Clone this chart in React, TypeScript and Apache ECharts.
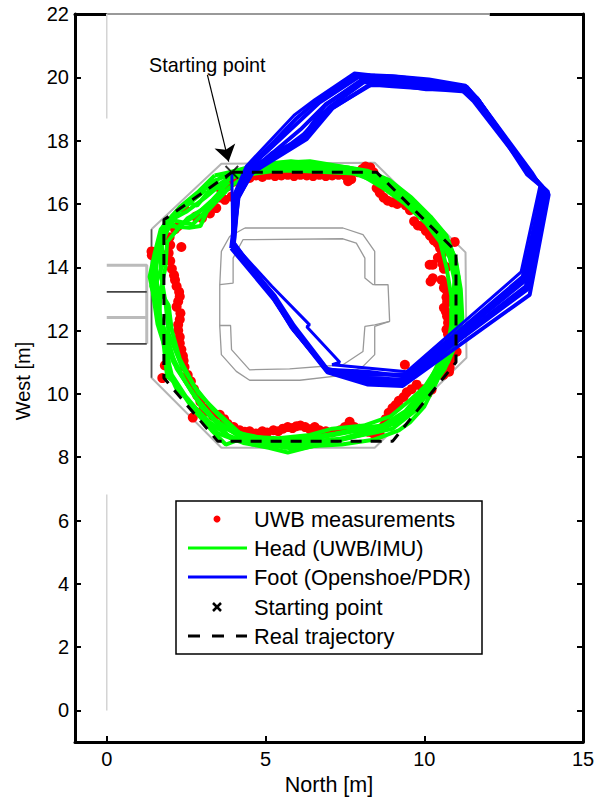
import React, { useEffect, useRef } from "react";
import * as echarts from "echarts";

const xTicks = [0, 5, 10, 15];
const yTicks = [0, 2, 4, 6, 8, 10, 12, 14, 16, 18, 20, 22];

const realTrajectory = [[3.94,17],[8.5,17],[11,14.5],[11,11],[9,8.5],[3.5,8.5],[1.8,10.5],[1.8,15.5],[3.94,17]];
const startPoint = [[3.94, 17]];

const uwbPoints = [
  [4.1,16.9],[4.3,16.85],[4.5,16.82],[4.7,16.9],[4.9,16.85],[5.1,16.92],[5.3,16.88],[5.5,16.9],[5.7,16.92],[5.9,16.88],[6.1,16.92],[6.3,16.9],[6.5,16.88],[6.7,16.92],[6.9,16.88],[7.1,16.9],[7.3,16.92],[7.5,16.9],[7.6,16.72],[7.7,16.78],[7.9,17.0],[8.05,17.1],[8.15,17.18],[8.3,17.15],[8.4,17.0],
  [8.5,16.5],[8.6,16.35],[8.72,16.2],[8.85,16.1],[9.0,16.05],[9.15,16.0],[9.3,16.12],[9.42,15.95],[9.55,15.8],[9.68,15.45],[9.8,15.32],[9.92,15.3],[10.05,15.15],[10.18,15.0],[10.3,14.85],[10.42,14.75],[10.5,14.6],[10.55,14.4],[10.96,14.8],
  [10.17,14.08],[10.27,14.08],[10.2,13.55],[10.27,13.65],[10.43,14.3],[10.58,14.1],[10.62,13.95],[10.7,14.0],[10.55,13.6],[10.65,13.5],[10.62,13.35],[10.72,13.25],[10.7,13.05],[10.72,12.9],[10.62,12.72],[10.68,12.6],[10.72,12.45],[10.75,12.25],[10.7,12.03],[10.75,11.88],[10.8,11.72],[10.85,11.55],[10.8,11.38],[10.85,11.2],[10.8,10.83],[11.02,11.33],[10.85,11.05],[10.78,10.7],[10.6,10.6],
  [9.39,10.92],[10.23,10.13],[10.1,10.0],[9.95,10.15],[9.76,10.29],[9.6,10.15],[9.45,10.05],[9.35,9.9],[9.2,9.78],[9.1,9.65],[9.0,9.55],[8.88,9.4],[8.78,9.2],[8.72,8.98],[8.6,8.72],[8.4,8.75],[8.25,8.8],[8.1,8.85],[7.95,8.9],[7.8,8.95],[7.65,9.12],[7.5,8.95],[7.35,8.85],[7.1,8.78],[6.9,8.82],[6.7,8.85],[6.55,8.95],[6.4,8.88],[6.25,8.95],[6.1,9.0],[5.98,8.98],[5.85,8.92],[5.7,8.95],[5.55,8.9],[5.4,8.82],[5.25,8.85],[5.05,8.78],[4.9,8.82],[4.7,8.75],[4.5,8.82],[4.35,8.8],[4.19,8.85],[4.0,8.95],[3.81,9.05],[3.7,9.2],[3.56,9.34],[3.35,9.3],[3.18,9.44],[2.71,9.25],
  [3.05,9.55],[2.95,9.75],[2.85,9.95],[2.75,10.15],[2.65,10.4],[2.55,10.6],[2.45,10.85],[2.42,11.05],[2.4,11.2],[2.35,11.4],[2.3,11.6],[2.3,11.8],[2.25,12.0],[2.25,12.18],[2.3,12.35],[2.32,12.55],[2.2,12.75],[2.25,12.92],[2.3,13.08],[2.28,13.22],[2.2,13.4],[2.15,13.6],[2.12,13.75],[2.05,13.95],[2.0,14.2],[1.95,14.45],[2.0,14.7],[1.98,14.95],[2.35,14.64],[1.41,14.5],[1.42,14.38],[1.83,10.9],[1.75,10.5],
  [2.15,15.2],[2.25,15.3],[3.72,16.13],[3.45,15.87],[3.93,16.23],[3.0,15.55],[3.25,15.7],[2.8,15.6],[3.6,16.45],[3.8,16.55],[3.55,16.2],[2.45,15.85],[4.0,16.7],
];

const green1 = [[3.9,17.0],[4.6,17.2],[5.5,17.3],[6.4,17.35],[7.3,17.2],[8.2,17.05],[8.9,16.75],[9.6,16.2],[10.2,15.6],[10.7,15.0],[11.0,14.2],[11.15,13.3],[11.2,12.4],[11.05,11.7],[10.75,11.0],[10.2,10.2],[9.6,9.5],[8.9,9.0],[8.0,8.7],[7.0,8.45],[6.0,8.25],[5.0,8.4],[4.1,8.7],[3.4,9.2],[2.8,9.9],[2.2,10.8],[1.9,11.8],[1.55,12.8],[1.35,13.7],[1.5,14.4],[1.7,15.2],[2.3,15.9],[2.9,16.4],[3.4,16.9]];
const green2 = [[3.4,16.9],[4.3,17.1],[5.2,17.2],[6.1,17.3],[7.0,17.15],[7.9,17.1],[8.6,16.85],[9.3,16.4],[10.0,15.75],[10.55,15.1],[10.9,14.4],[11.05,13.5],[11.1,12.6],[11.0,11.9],[10.6,10.9],[10.05,10.05],[9.45,9.35],[8.7,8.9],[7.8,8.7],[6.8,8.4],[5.8,8.35],[4.8,8.45],[3.9,8.6],[3.2,9.35],[2.65,10.1],[2.1,11.0],[1.75,12.0],[1.5,13.0],[1.45,13.9],[1.6,14.7],[1.85,15.4],[2.5,15.75],[3.1,16.2],[3.7,16.7]];
const green3 = [[3.7,16.7],[4.4,17.05],[5.4,17.15],[6.3,17.2],[7.2,17.1],[8.0,16.95],[8.8,16.6],[9.5,16.05],[10.1,15.5],[10.6,14.9],[10.9,14.1],[11.0,13.2],[10.95,12.3],[10.85,11.6],[10.5,10.7],[9.95,9.95],[9.3,9.2],[8.5,8.85],[7.5,8.6],[6.5,8.5],[5.5,8.45],[4.5,8.55],[3.65,8.95],[3.0,9.55],[2.5,10.35],[2.0,11.3],[1.7,12.3],[1.6,13.2],[1.55,14.1],[1.75,14.9],[2.0,15.5],[2.7,15.35],[3.3,15.95],[3.9,16.55]];
const green4 = [[3.9,16.55],[4.5,17.0],[5.6,17.1],[6.6,17.1],[7.5,17.05],[8.3,16.85],[9.0,16.45],[9.7,15.9],[10.3,15.35],[10.75,14.7],[10.95,13.9],[11.05,13.0],[11.0,12.1],[10.7,11.3],[10.35,10.5],[9.7,9.7],[9.1,9.05],[8.2,8.95],[7.2,8.75],[6.2,8.6],[5.2,8.55],[4.2,8.75],[3.5,9.4],[2.9,10.0],[2.35,10.9],[1.95,11.9],[1.85,12.9],[1.7,13.8],[1.7,14.6],[1.95,15.3],[2.6,15.25],[2.95,15.3],[3.15,15.75],[3.75,16.4]];
const green5 = [[3.75,16.4],[3.4,16.55],[3.0,16.45],[2.75,16.2],[3.2,16.65],[3.9,16.95],[4.8,17.25],[5.8,17.35],[6.8,17.25],[7.7,17.0],[8.5,16.7],[9.2,16.25],[9.9,15.65],[10.45,15.0],[10.8,14.3],[10.95,13.6],[10.9,12.8],[10.85,12.0],[10.55,11.2],[10.15,10.35],[9.55,9.8],[8.95,9.3],[8.1,9.0],[7.1,8.9],[6.4,8.7],[5.4,8.6],[4.4,8.65],[3.75,8.4],[3.3,8.85],[2.7,9.55],[2.15,10.35],[1.9,10.55],[1.8,11.5],[1.65,12.6],[1.4,13.4],[1.6,14.3],[1.85,15.05],[2.2,15.7],[2.95,16.3],[3.6,16.85]];
const green6 = [[3.6,16.85],[4.9,17.05],[6.0,17.05],[7.0,17.0],[7.95,16.95],[8.7,16.5],[9.4,16.0],[10.05,15.4],[10.5,14.8],[10.7,14.0],[10.85,13.1],[10.85,12.2],[10.75,11.5],[10.4,10.4],[10.0,9.6],[9.55,9.1],[9.2,8.85],[8.4,8.55],[7.4,8.4],[6.5,8.35],[5.7,8.15],[5.1,8.3],[4.3,8.45],[3.5,8.75],[3.1,9.2],[2.55,9.85],[2.2,10.15],[1.95,10.7],[1.95,11.3],[1.8,11.9],[1.65,12.4],[1.7,13.3],[1.85,14.0],[1.9,14.8],[2.15,15.1],[2.55,15.55],[3.05,15.85],[3.45,16.2],[3.94,16.95]];
const green7 = [[3.94,16.95],[5.0,17.15],[6.2,17.15],[7.4,17.1],[8.1,17.0],[8.8,16.7],[9.45,16.15],[10.1,15.6],[10.65,14.95],[10.98,14.3],[11.1,13.4],[11.12,12.2],[10.95,11.5],[10.65,10.8],[10.1,10.0],[9.7,9.45],[9.0,8.9],[8.3,8.75],[7.3,8.55],[6.3,8.45],[5.6,8.3],[4.9,8.5],[4.0,8.85],[3.35,9.5],[2.75,10.25],[2.3,11.1],[2.05,12.0],[1.95,12.8],[1.5,13.55],[1.62,14.5],[1.78,15.3],[2.05,15.62],[2.4,15.95],[2.65,16.02],[2.85,15.95],[3.25,16.45],[3.5,16.6],[3.9,16.85]];
const green8 = [[3.9,16.85],[5.3,17.05],[6.7,17.25],[7.6,17.15],[8.4,16.95],[9.1,16.5],[9.8,15.85],[10.4,15.2],[10.85,14.5],[11.08,13.7],[10.95,12.7],[10.9,11.9],[10.45,10.9],[9.9,10.05],[9.4,9.45],[8.6,8.95],[7.7,8.8],[6.6,8.6],[5.9,8.4],[5.3,8.4],[4.6,8.4],[3.8,8.7],[3.25,9.1],[2.6,9.75],[2.05,10.6],[1.85,11.4],[1.6,12.2],[1.45,13.2],[1.8,14.2],[1.72,14.75],[1.95,15.5],[2.2,15.25],[2.75,15.6],[3.3,16.1],[3.85,16.7]];

const blue1 = [[3.94,17],[3.97,14.75],[5.2,13.4],[6.39,12.18],[6.3,12.12],[7.34,11.0],[7.1,10.92],[9.45,10.7],[13.05,13.85],[13.65,16.6],[13.4,17.0],[11.65,19.38],[11.3,19.75],[10.15,19.95],[9.0,20.05],[8.3,20.08],[7.8,20.14],[6.55,19.29],[5.9,18.8],[4.4,17.2],[4.05,16.4],[3.95,14.7]];
const blue2 = [[3.95,14.7],[5.29,13.1],[5.9,12.15],[6.96,10.76],[8.2,10.7],[9.4,10.55],[13.1,13.7],[13.75,16.5],[13.35,16.95],[11.6,19.3],[11.25,19.65],[10.12,19.85],[9.0,19.98],[8.4,20.0],[7.95,20.02],[6.7,19.2],[6.0,18.55],[4.45,17.1],[4.1,16.3],[3.98,14.8]];
const blue3 = [[3.98,14.8],[5.22,13.1],[5.82,12.1],[6.9,10.8],[8.2,10.5],[9.35,10.45],[13.15,13.55],[13.8,16.45],[13.3,16.98],[11.55,19.25],[11.2,19.58],[10.1,19.72],[9.0,19.9],[8.5,19.92],[8.0,19.9],[6.85,19.1],[6.1,18.35],[4.5,17.0],[4.12,16.25],[4.0,14.75]];
const blue4 = [[4.0,14.75],[5.27,13.0],[5.88,12.05],[6.98,10.72],[8.2,10.42],[9.3,10.4],[13.2,13.4],[13.85,16.42],[13.28,17.0],[11.65,19.35],[11.25,19.6],[10.08,19.68],[9.0,19.82],[8.55,19.82],[8.1,19.85],[7.0,19.05],[6.2,18.2],[4.55,16.95],[4.15,16.2],[3.95,14.65]];
const blue5 = [[3.95,14.65],[5.3,13.05],[5.9,12.0],[7.0,10.7],[8.2,10.38],[9.28,10.35],[13.25,13.3],[13.9,16.38],[13.25,16.92],[11.7,19.3],[11.3,19.55],[10.05,19.65],[9.0,19.72],[8.6,19.75],[8.25,19.75],[7.12,19.03],[6.3,18.05],[4.6,17.0],[4.1,16.15],[3.92,14.6]];
const blue6 = [[3.92,14.6],[5.25,13.0],[5.85,12.08],[6.95,10.68],[8.2,10.3],[9.32,10.25],[13.32,13.13],[13.92,16.3],[13.3,17.02],[11.72,19.25],[11.34,19.7],[10.17,19.78],[9.2,19.95],[8.7,19.98],[8.2,19.98],[6.9,19.15],[6.08,17.95],[4.5,17.15],[4.05,16.25],[3.97,14.72]];
const blue7 = [[3.97,14.72],[5.24,13.05],[5.84,12.12],[6.93,10.74],[8.2,10.6],[9.42,10.62],[13.12,13.62],[13.72,16.55],[13.38,16.92],[11.62,19.33],[11.28,19.7],[10.13,19.9],[9.1,20.02],[8.45,20.05],[7.85,20.08],[6.62,19.25],[5.95,18.68],[5.3,18.0],[4.42,17.12],[4.08,16.35],[3.96,14.68]];
const blue8 = [[3.96,14.68],[5.28,13.02],[5.87,12.1],[6.97,10.7],[8.2,10.34],[9.34,10.3],[11.2,11.8],[13.22,13.35],[13.58,15.0],[13.88,16.35],[13.32,16.96],[12.4,18.3],[11.68,19.32],[11.32,19.62],[10.06,19.62],[9.0,19.78],[8.35,19.78],[7.05,19.0],[6.25,18.1],[5.2,17.6],[4.52,16.98],[4.14,16.22],[4.0,14.7]];

const octagonWall = [[1.41,15.2],[3.61,17.27],[8.44,17.3],[11.3,14.47],[11.33,11.14],[8.44,8.3],[3.61,8.3],[1.41,10.51],[1.41,15.2]];
const islandOuter = [[4.35,15.24],[7.44,15.24],[8.07,15.03],[8.44,14.5],[8.44,13.45],[8.86,13.45],[8.91,12.29],[8.44,12.13],[8.44,11.24],[8.07,10.87],[7.55,10.6],[6.08,10.43],[4.5,10.43],[4.08,10.71],[3.61,11.24],[3.56,12.13],[3.56,13.45],[3.61,14.5],[3.87,14.97],[4.35,15.24]];
const islandInnerTop = [[3.56,13.45],[3.98,13.5],[3.98,14.29],[4.29,14.87],[7.44,14.9],[7.86,14.76],[8.13,14.29],[8.13,13.66],[8.39,13.45],[8.86,13.45]];
const islandInnerBottom = [[3.56,12.16],[3.9,12.16],[3.93,11.4],[4.5,10.76],[5.76,10.79],[7.44,10.92],[8.07,11.34],[8.13,12.13],[8.44,12.18],[8.91,12.29]];
const doorLight = [[[0,14.06],[1.26,14.06],[1.26,11.58]],[[0,12.41],[1.26,12.41]]];
const doorDark = [[[0,13.22],[1.26,13.22]],[[0,11.58],[1.26,11.58]]];
const mapEdgeLeft = [[[0,22],[0,18.7]],[[0,6.82],[0,0]]];
const mapEdgeTop = [[0,22],[12.06,22]];
const arrowFrom = [3.17,20.08];
const arrowTo = [3.84,17.34];

const FONT = "'Liberation Sans', Arial, sans-serif";
const CROSS = "path://M1,0 L5,4 L9,0 L10,1 L6,5 L10,9 L9,10 L5,6 L1,10 L0,9 L4,5 L0,1 Z";

const thin = (name: string, data: number[][], color: string, width: number, extra: any = {}) => ({
  name, type: "line", data, showSymbol: false, symbol: "none", silent: true, clip: false,
  lineStyle: { color, width }, itemStyle: { color }, ...extra,
});

export default function App() {
  const ref = useRef<HTMLDivElement>(null);
  useEffect(() => {
    const chart = echarts.init(ref.current!, null, { renderer: "svg" });
    const legendRows = [519, 548, 577, 607, 636];
    const legendText = ["UWB measurements", "Head (UWB/IMU)", "Foot (Openshoe/PDR)", "Starting point", "Real trajectory"];
    chart.setOption({
      animation: false,
      backgroundColor: "#fff",
      textStyle: { fontFamily: FONT },
      grid: { left: 75, top: 14, width: 508, height: 741, containLabel: false },
      xAxis: [
        { type: "value", min: -1, max: 15, position: "bottom", name: "North [m]", nameLocation: "middle", nameGap: 26,
          nameTextStyle: { color: "#000", fontSize: 21.5, fontFamily: FONT },
          splitLine: { show: false },
          axisLine: { onZero: false, lineStyle: { color: "#000", width: 3 } },
          axisTick: { inside: true, length: 6, customValues: xTicks, lineStyle: { color: "#000", width: 2 } },
          axisLabel: { customValues: xTicks, color: "#000", fontSize: 20, margin: 7, fontFamily: FONT } },
        { type: "value", min: -1, max: 15, position: "top", splitLine: { show: false },
          axisLine: { onZero: false, lineStyle: { color: "#000", width: 3 } }, axisTick: { show: false }, axisLabel: { show: false } },
      ],
      yAxis: [
        { type: "value", min: -1, max: 22, position: "left", name: "West [m]", nameLocation: "middle", nameGap: 42,
          nameTextStyle: { color: "#000", fontSize: 20, fontFamily: FONT, padding: [0, 6, 0, 0] },
          splitLine: { show: false },
          axisLine: { onZero: false, lineStyle: { color: "#000", width: 3 } },
          axisTick: { inside: true, length: 6, customValues: yTicks, lineStyle: { color: "#000", width: 2 } },
          axisLabel: { customValues: yTicks, color: "#000", fontSize: 20, margin: 6, fontFamily: FONT } },
        { type: "value", min: -1, max: 22, position: "right", splitLine: { show: false },
          axisLine: { onZero: false, lineStyle: { color: "#000", width: 3 } },
          axisTick: { inside: true, length: 6, customValues: yTicks, lineStyle: { color: "#000", width: 2 } },
          axisLabel: { show: false } },
      ],
      series: [
        thin("mapTopMask", mapEdgeTop, "#fff", 6),
        thin("mapTop", mapEdgeTop, "#777", 1.5),
        ...mapEdgeLeft.map((d, i) => thin("mapLeft" + i, d, "#d4d4d4", 1.5)),
        thin("octagon", octagonWall, "#b4b4b4", 2),
        thin("octagonDark", octagonWall.slice(-2), "#555", 1.5),
        thin("islandOuter", islandOuter, "#999", 1.3),
        thin("islandInnerTop", islandInnerTop, "#999", 1.3),
        thin("islandInnerBottom", islandInnerBottom, "#999", 1.3),
        ...doorLight.map((d, i) => thin("doorLight" + i, d, "#bbb", 3)),
        ...doorDark.map((d, i) => thin("doorDark" + i, d, "#444", 1.8)),
        { name: "UWB measurements", type: "scatter", data: uwbPoints, symbol: "circle", symbolSize: 10, silent: true,
          itemStyle: { color: "#ff0000", opacity: 1 }, z: 3 },
        ...[green1, green2, green3, green4, green5, green6, green7, green8].map((d, i) =>
          thin(i === 0 ? "Head (UWB/IMU)" : "Head " + (i + 1), d, "#00ff00", 4, { z: 4 })),
        ...[blue1, blue2, blue3, blue4, blue5, blue6, blue7, blue8].map((d, i) =>
          thin(i === 0 ? "Foot (Openshoe/PDR)" : "Foot " + (i + 1), d, "#0000ff", i === 0 ? 3 : 4, { z: 5 })),
        thin("Real trajectory", realTrajectory, "#000", 3, { z: 6, lineStyle: { color: "#000", width: 3, type: [11, 9] },
          markLine: { silent: true, symbol: ["none", "arrow"], symbolSize: 16, label: { show: false }, animation: false,
            lineStyle: { color: "#000", width: 1.2, type: "solid" },
            data: [[{ coord: arrowFrom }, { coord: arrowTo }]] } }),
        { name: "Starting point", type: "scatter", data: startPoint, symbol: CROSS, symbolSize: 14, silent: true, itemStyle: { color: "#000" }, z: 7 },
      ],
      graphic: [
        { type: "rect", z: 20, shape: { x: 176, y: 501, width: 306, height: 153 }, style: { fill: "#fff", stroke: "#000", lineWidth: 1.5 } },
        { type: "circle", z: 21, shape: { cx: 217, cy: legendRows[0], r: 3.5 }, style: { fill: "#ff0000" } },
        { type: "line", z: 21, shape: { x1: 188, y1: legendRows[1], x2: 247, y2: legendRows[1] }, style: { stroke: "#00ff00", lineWidth: 3 } },
        { type: "line", z: 21, shape: { x1: 188, y1: legendRows[2], x2: 247, y2: legendRows[2] }, style: { stroke: "#0000ff", lineWidth: 3 } },
        { type: "line", z: 21, shape: { x1: 213, y1: legendRows[3] - 4, x2: 221, y2: legendRows[3] + 4 }, style: { stroke: "#000", lineWidth: 2.5 } },
        { type: "line", z: 21, shape: { x1: 221, y1: legendRows[3] - 4, x2: 213, y2: legendRows[3] + 4 }, style: { stroke: "#000", lineWidth: 2.5 } },
        { type: "line", z: 21, shape: { x1: 188, y1: legendRows[4], x2: 247, y2: legendRows[4] }, style: { stroke: "#000", lineWidth: 3, lineDash: [12, 12] } },
        ...legendText.map((t, i) => ({ type: "text", z: 21, x: 254, y: legendRows[i], style: { text: t, fill: "#000", fontSize: 21.8, fontFamily: FONT, textVerticalAlign: "middle" } })),
        { type: "text", z: 21, x: 149, y: 65, style: { text: "Starting point", fill: "#000", fontSize: 19.8, fontFamily: FONT, textVerticalAlign: "middle" } },
      ],
    });
    return () => chart.dispose();
  }, []);
  return <div ref={ref} style={{ width: 610, height: 801, position: "absolute", left: 0, top: 0 }} />;
}
